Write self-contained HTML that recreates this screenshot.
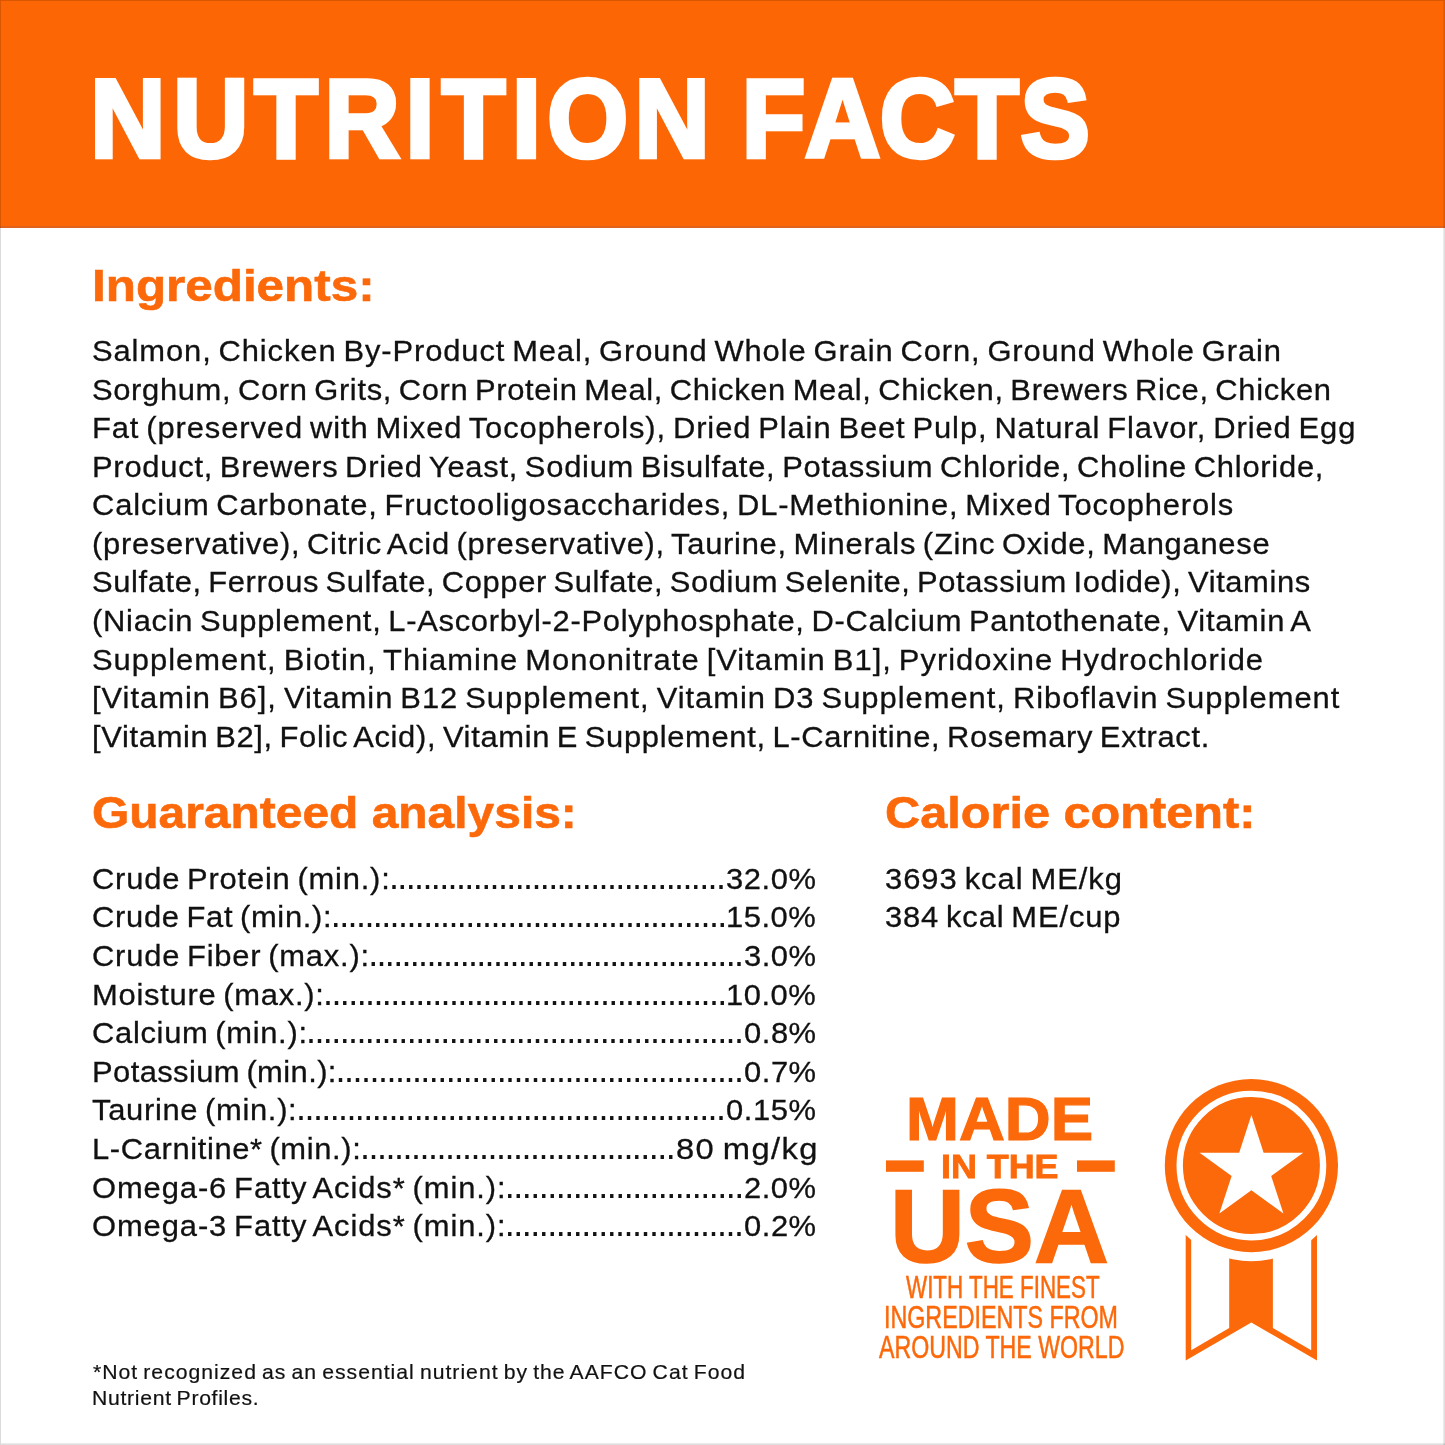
<!DOCTYPE html>
<html lang="en">
<head>
<meta charset="utf-8">
<title>Nutrition Facts</title>
<style>
html,body{margin:0;padding:0;background:#fff}
body{width:1445px;height:1445px;overflow:hidden;position:relative;font-family:"Liberation Sans",Arial,Helvetica,sans-serif;color:#111111}
#page{position:absolute;left:0;top:0;width:1445px;height:1445px;overflow:hidden;background:#fff}
#page *{margin:0;padding:0;box-sizing:border-box}
header{position:absolute;left:0;top:0;width:1445px;height:227.6px;background:#FD6604}
header:after{content:"";position:absolute;left:0;right:0;bottom:0;height:1.2px;background:#E0621C}
.edge{position:absolute;background:rgba(0,0,0,.14)}
.edge.l{left:0;top:0;width:1px;height:1445px}
.edge.tp{left:1px;top:0;right:0;height:1px}
.edge.r{right:0;top:1px;width:2px;bottom:0;background:linear-gradient(90deg,rgba(0,0,0,.06),rgba(0,0,0,.15))}
.edge.bt{left:1px;right:0;bottom:0;height:2px;background:linear-gradient(180deg,rgba(0,0,0,.06),rgba(0,0,0,.15))}
.t{position:absolute;display:block;white-space:pre;line-height:1;transform-origin:0 0;font-weight:400}
.ttl{font-family:"Liberation Sans",Arial,Helvetica,sans-serif;font-size:111.92px;font-weight:700;fill:#fff;stroke:#fff;stroke-width:4.6px;stroke-linejoin:miter;font-kerning:none}
h2.t{font-size:44.77px;font-weight:700;color:#FC690A;-webkit-text-stroke:0.6px #FC690A}
.b{font-size:30px;word-spacing:-2.5px;-webkit-text-stroke:0.3px #111111;transform:scaleX(1.03)}
.d{font-size:36px;transform:none;-webkit-text-stroke:0}
.f{font-size:19.8px;word-spacing:-1.65px;-webkit-text-stroke-width:0.2px;transform:scaleX(1.07)}
.o{color:#FC690A}
.bd{font-weight:700}
ul{list-style:none}
svg{position:absolute;left:0;top:0;overflow:visible}
</style>
</head>
<body>
<div id="page">
<header><h1><svg width="1445" height="228" viewBox="0 0 1445 228"><text class="ttl" transform="scale(0.93 1)" x="97.07 186.43 273.36 348.96 436.02 474.93 550.53 588.47 682.37 763.2 797.61 865.67 946.07 1027.23 1097.32" y="157">NUTRITION FACTS</text></svg></h1></header>
<section>
<h2 id="h1" class="t" style="left:92.23px;top:262.71px;transform:scaleX(1.1031)">Ingredients:</h2>
<p>
<span id="i0" class="t b" style="left:92.15px;top:336.1px;letter-spacing:0.873px">Salmon, Chicken By-Product Meal, Ground Whole Grain Corn, Ground Whole Grain</span>
<span id="i1" class="t b" style="left:92.15px;top:374.67px;letter-spacing:0.642px">Sorghum, Corn Grits, Corn Protein Meal, Chicken Meal, Chicken, Brewers Rice, Chicken</span>
<span id="i2" class="t b" style="left:92.42px;top:413.23px;letter-spacing:0.88px">Fat (preserved with Mixed Tocopherols), Dried Plain Beet Pulp, Natural Flavor, Dried Egg</span>
<span id="i3" class="t b" style="left:92.42px;top:451.8px;letter-spacing:0.724px">Product, Brewers Dried Yeast, Sodium Bisulfate, Potassium Chloride, Choline Chloride,</span>
<span id="i4" class="t b" style="left:92.29px;top:490.35px;letter-spacing:0.817px">Calcium Carbonate, Fructooligosaccharides, DL-Methionine, Mixed Tocopherols</span>
<span id="i5" class="t b" style="left:92.34px;top:528.91px;letter-spacing:0.704px">(preservative), Citric Acid (preservative), Taurine, Minerals (Zinc Oxide, Manganese</span>
<span id="i6" class="t b" style="left:92.15px;top:567.46px;letter-spacing:0.59px">Sulfate, Ferrous Sulfate, Copper Sulfate, Sodium Selenite, Potassium Iodide), Vitamins</span>
<span id="i7" class="t b" style="left:92.34px;top:606.03px;letter-spacing:0.707px">(Niacin Supplement, L-Ascorbyl-2-Polyphosphate, D-Calcium Pantothenate, Vitamin A</span>
<span id="i8" class="t b" style="left:92.15px;top:644.59px;letter-spacing:0.983px">Supplement, Biotin, Thiamine Mononitrate [Vitamin B1], Pyridoxine Hydrochloride</span>
<span id="i9" class="t b" style="left:91.75px;top:683.16px;letter-spacing:0.961px">[Vitamin B6], Vitamin B12 Supplement, Vitamin D3 Supplement, Riboflavin Supplement</span>
<span id="i10" class="t b" style="left:91.75px;top:721.71px;letter-spacing:0.658px">[Vitamin B2], Folic Acid), Vitamin E Supplement, L-Carnitine, Rosemary Extract.</span>
</p>
</section>
<section>
<h2 id="h2" class="t" style="left:92.16px;top:790.31px;transform:scaleX(1.0707)">Guaranteed analysis:</h2>
<ul>
<li><span id="gk0" class="t b" style="left:92.19px;top:863.81px;letter-spacing:0.784px">Crude Protein (min.):</span><span class="t b d" style="left:388.9px;top:858.8px;letter-spacing:-1.616px">........................................</span><span id="gv0" class="t b" style="left:725.88px;top:863.81px;letter-spacing:0.592px">32.0%</span></li>
<li><span id="gk1" class="t b" style="left:92.19px;top:902.41px;letter-spacing:0.686px">Crude Fat (min.):</span><span class="t b d" style="left:330.8px;top:897.39px;letter-spacing:-1.599px">...............................................</span><span id="gv1" class="t b" style="left:726.1px;top:902.41px;letter-spacing:0.539px">15.0%</span></li>
<li><span id="gk2" class="t b" style="left:92.19px;top:940.99px;letter-spacing:0.775px">Crude Fiber (max.):</span><span class="t b d" style="left:368.2px;top:935.98px;letter-spacing:-1.689px">.............................................</span><span id="gv2" class="t b" style="left:743.88px;top:940.99px;letter-spacing:0.529px">3.0%</span></li>
<li><span id="gk3" class="t b" style="left:92.22px;top:979.57px;letter-spacing:0.733px">Moisture (max.):</span><span class="t b d" style="left:323.1px;top:974.57px;letter-spacing:-1.614px">................................................</span><span id="gv3" class="t b" style="left:726.1px;top:979.57px;letter-spacing:0.539px">10.0%</span></li>
<li><span id="gk4" class="t b" style="left:92.19px;top:1018.17px;letter-spacing:0.681px">Calcium (min.):</span><span class="t b d" style="left:306.1px;top:1013.16px;letter-spacing:-1.613px">....................................................</span><span id="gv4" class="t b" style="left:743.85px;top:1018.17px;letter-spacing:0.54px">0.8%</span></li>
<li><span id="gk5" class="t b" style="left:92.22px;top:1056.76px;letter-spacing:0.403px">Potassium (min.):</span><span class="t b d" style="left:335.6px;top:1051.75px;letter-spacing:-1.526px">................................................</span><span id="gv5" class="t b" style="left:743.85px;top:1056.76px;letter-spacing:0.54px">0.7%</span></li>
<li><span id="gk6" class="t b" style="left:92.46px;top:1095.35px;letter-spacing:0.68px">Taurine (min.):</span><span class="t b d" style="left:296.1px;top:1090.34px;letter-spacing:-1.605px">...................................................</span><span id="gv6" class="t b" style="left:725.85px;top:1095.35px;letter-spacing:0.602px">0.15%</span></li>
<li><span id="gk7" class="t b" style="left:92.42px;top:1133.94px;letter-spacing:0.615px">L-Carnitine* (min.):</span><span class="t b d" style="left:360.1px;top:1128.93px;letter-spacing:-1.509px">.....................................</span><span id="gv7" class="t b" style="left:675.54px;top:1133.94px;letter-spacing:1.261px;transform:scaleX(1.09)">80 mg/kg</span></li>
<li><span id="gk8" class="t b" style="left:92.29px;top:1172.53px;letter-spacing:0.886px">Omega-6 Fatty Acids* (min.):</span><span class="t b d" style="left:504.8px;top:1167.52px;letter-spacing:-1.501px">............................</span><span id="gv8" class="t b" style="left:743.9px;top:1172.53px;letter-spacing:0.518px">2.0%</span></li>
<li><span id="gk9" class="t b" style="left:92.29px;top:1211.12px;letter-spacing:0.886px">Omega-3 Fatty Acids* (min.):</span><span class="t b d" style="left:504.8px;top:1206.11px;letter-spacing:-1.516px">............................</span><span id="gv9" class="t b" style="left:743.85px;top:1211.12px;letter-spacing:0.54px">0.2%</span></li>
</ul>
</section>
<section>
<h2 id="h3" class="t" style="left:884.73px;top:790.31px;transform:scaleX(1.0874)">Calorie content:</h2>
<p><span id="c0" class="t b" style="left:885.38px;top:863.6px;letter-spacing:0.948px">3693 kcal ME/kg</span><span id="c1" class="t b" style="left:885.38px;top:902.2px;letter-spacing:0.845px">384 kcal ME/cup</span></p>
</section>
<aside>
<div id="b0" class="t o bd" style="left:905.67px;top:1088.71px;transform:scaleX(1.0411);font-size:61.05px;-webkit-text-stroke:1.2px #FC690A">MADE</div>
<div id="b1" class="t o bd" style="left:940.53px;top:1149.7px;transform:scaleX(1.0728);font-size:33.43px;-webkit-text-stroke:0.8px #FC690A">IN THE</div>
<div id="b2" class="t o bd" style="left:890.18px;top:1176.32px;transform:scaleX(1.0074);font-size:102.91px;-webkit-text-stroke:1.6px #FC690A">USA</div>
<div id="b3" class="t o" style="left:906.08px;top:1271.56px;transform:scaleX(0.7304);font-size:30.67px;-webkit-text-stroke:0.5px #FC690A">WITH THE FINEST</div>
<div id="b4" class="t o" style="left:883.84px;top:1302.15px;transform:scaleX(0.759);font-size:30.67px;-webkit-text-stroke:0.5px #FC690A">INGREDIENTS FROM</div>
<div id="b5" class="t o" style="left:879.14px;top:1331.85px;transform:scaleX(0.7559);font-size:30.67px;-webkit-text-stroke:0.5px #FC690A">AROUND THE WORLD</div>
<svg width="1445" height="1445" viewBox="0 0 1445 1445" aria-hidden="true">
<rect x="886" y="1160.4" width="37.8" height="11.4" fill="#FC690A"/>
<rect x="1077" y="1160.4" width="37.8" height="11.4" fill="#FC690A"/>
<path fill="#FC690A" d="M1185.7 1225V1360.6L1251.35 1322.5L1317 1360.6V1225Z"/>
<path fill="#fff" d="M1191.2 1225V1350.2L1229.2 1328V1225Z"/>
<path fill="#fff" d="M1311.2 1225V1350.2L1272.9 1328V1225Z"/>
<circle cx="1251.4" cy="1165.6" r="95.6" fill="#fff"/>
<circle cx="1251.4" cy="1165.6" r="86.6" fill="#FC690A"/>
<circle cx="1251.4" cy="1165.6" r="71.7" fill="none" stroke="#fff" stroke-width="6.4"/>
<polygon fill="#fff" points="1251.4,1115 1263.63,1152.67 1303.23,1152.66 1271.18,1175.93 1283.43,1213.59 1251.4,1190.3 1219.37,1213.59 1231.62,1175.93 1199.57,1152.66 1239.17,1152.67"/>
</svg>
</aside>
<footer><p><span id="f0" class="t b f" style="left:92.86px;top:1363.1px;letter-spacing:0.94px">*Not recognized as an essential nutrient by the AAFCO Cat Food</span><span id="f1" class="t b f" style="left:92.07px;top:1389.1px;letter-spacing:0.658px">Nutrient Profiles.</span></p></footer>
<div class="edge l"></div><div class="edge tp"></div><div class="edge r"></div><div class="edge bt"></div>
</div>
</body>
</html>
